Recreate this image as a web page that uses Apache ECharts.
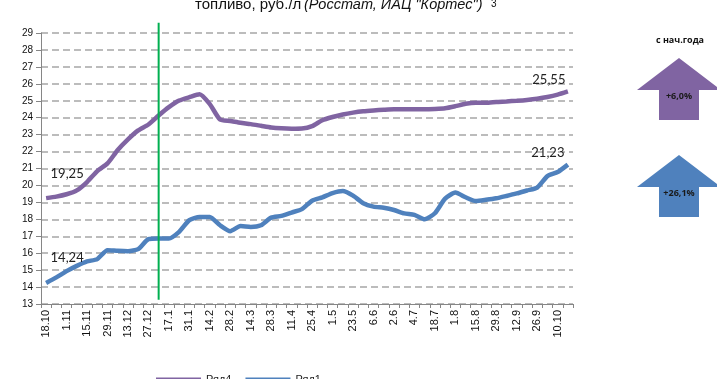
<!DOCTYPE html>
<html>
<head>
<meta charset="utf-8">
<script src="https://cdn.jsdelivr.net/npm/echarts@6/dist/echarts.min.js"></script>
<style>
  html, body { margin: 0; padding: 0; background: #fff; }
  #chart { width: 717px; height: 379px; }
</style>
</head>
<body>
<div id="chart"></div>
<script>
// Weekly observation dates (every second one is labelled on the axis)
const categories = [
  '18.10','25.10','1.11','8.11','15.11','22.11','29.11','6.12','13.12','20.12',
  '27.12','10.1','17.1','24.1','31.1','7.2','14.2','21.2','28.2','7.3',
  '14.3','21.3','28.3','4.4','11.4','18.4','25.4','27.4','1.5','16.5',
  '23.5','30.5','6.6','13.6','2.6','27.6','4.7','11.7','18.7','25.7',
  '1.8','8.8','15.8','22.8','29.8','5.9','12.9','19.9','26.9','3.10',
  '10.10','17.10'
];

// Ряд4, руб./л
const series4 = [
  19.25, 19.34, 19.48, 19.71, 20.20, 20.85, 21.30, 22.09, 22.72, 23.25,
  23.60, 24.13, 24.62, 25.01, 25.21, 25.38, 24.80, 23.89, 23.80, 23.70,
  23.62, 23.52, 23.42, 23.37, 23.35, 23.36, 23.50, 23.85, 24.04, 24.19,
  24.30, 24.38, 24.43, 24.47, 24.50, 24.50, 24.50, 24.50, 24.52, 24.56,
  24.68, 24.82, 24.88, 24.88, 24.93, 24.96, 25.00, 25.05, 25.12, 25.22,
  25.36, 25.55
];

// Ряд1, руб./л
const series1 = [
  14.24, 14.57, 14.94, 15.25, 15.51, 15.65, 16.18, 16.14, 16.12, 16.24,
  16.83, 16.87, 16.87, 17.26, 17.95, 18.14, 18.14, 17.65, 17.30, 17.60,
  17.55, 17.65, 18.10, 18.20, 18.40, 18.60, 19.10, 19.30, 19.55, 19.67,
  19.40, 18.95, 18.75, 18.68, 18.55, 18.35, 18.26, 18.00, 18.36, 19.22,
  19.58, 19.30, 19.08, 19.15, 19.24, 19.38, 19.53, 19.70, 19.87, 20.55,
  20.79, 21.23
];

const seriesNames = ['Ряд4', 'Ряд1'];
const seriesColors = ['#8064a2', '#4f81bd'];
const yTicks = { min: 13, max: 29, step: 1 };
const yearStartIndex = 11;           // first week of the new year
const yearLineSpan = [13.25, 29.6];  // vertical extent of the year marker, in axis units
const growthLabels = ['+6,0%', '+26,1%'];

const fmt = v => String(v.toFixed(2)).replace('.', ',');

// Attach value labels to the first and last points of a series
function withEndLabels(values, firstOffset, lastOffset) {
  return values.map((v, i) => {
    if (i === 0 || i === values.length - 1) {
      return {
        value: v,
        label: {
          show: true,
          position: 'top',
          offset: i === 0 ? firstOffset : lastOffset,
          formatter: p => fmt(p.value),
          fontFamily: 'Lato, "Open Sans", sans-serif',
          fontSize: 13,
          color: '#222'
        }
      };
    }
    return v;
  });
}

const chart = echarts.init(document.getElementById('chart'), null, { renderer: 'canvas' });

// Up-arrow badge shape
function arrow(tipX, tipY, fill, text) {
  const headH = 32, shaftH = 30, halfHead = 42, halfShaft = 20;
  return [
    {
      type: 'polygon',
      shape: {
        points: [
          [tipX, tipY],
          [tipX + halfHead, tipY + headH],
          [tipX + halfShaft, tipY + headH],
          [tipX + halfShaft, tipY + headH + shaftH],
          [tipX - halfShaft, tipY + headH + shaftH],
          [tipX - halfShaft, tipY + headH],
          [tipX - halfHead, tipY + headH]
        ]
      },
      style: { fill: fill }
    },
    {
      type: 'text',
      x: tipX, y: tipY + 38,
      style: {
        text: text,
        font: 'bold 9px "Open Sans", "Liberation Sans", sans-serif',
        fill: '#1a1a1a',
        textAlign: 'center',
        textVerticalAlign: 'middle'
      }
    }
  ];
}

const option = {
  backgroundColor: '#fff',
  animation: false,
  grid: { left: 41, right: 144, top: 33, bottom: 75, containLabel: false },
  legend: {
    data: seriesNames,
    left: 151,
    top: 369,
    icon: 'rect',
    itemWidth: 45,
    itemHeight: 4,
    itemGap: 14,
    textStyle: { fontFamily: '"Liberation Sans", Arial, sans-serif', fontSize: 11, color: '#222' }
  },
  xAxis: {
    type: 'category',
    data: categories,
    boundaryGap: true,
    axisLine: { lineStyle: { color: '#868686', width: 1 } },
    axisTick: { show: true, interval: 0, length: 4, lineStyle: { color: '#868686' } },
    axisLabel: {
      interval: 1,
      rotate: 90,
      margin: 6,
      fontFamily: '"Liberation Sans", Arial, sans-serif',
      fontSize: 11,
      color: '#111'
    },
    splitLine: { show: false }
  },
  yAxis: {
    type: 'value',
    min: yTicks.min,
    max: yTicks.max,
    interval: yTicks.step,
    axisLine: { show: true, lineStyle: { color: '#868686', width: 1 } },
    axisTick: { show: true, length: 5, inside: false, lineStyle: { color: '#868686' } },
    axisLabel: {
      margin: 8,
      fontFamily: '"Liberation Sans", Arial, sans-serif',
      fontSize: 10,
      color: '#111'
    },
    splitLine: { show: true, lineStyle: { color: '#a6a6a6', type: [7, 4], width: 1.5 } }
  },
  series: [
    {
      name: seriesNames[0],
      type: 'line',
      data: withEndLabels(series4, [21, -13], [-19, 0]),
      smooth: 0.2,
      symbol: 'circle',
      symbolSize: 0,
      showSymbol: true,
      clip: false,
      lineStyle: { color: seriesColors[0], width: 4.5 },
      itemStyle: { color: seriesColors[0] },
      z: 3
    },
    {
      name: seriesNames[1],
      type: 'line',
      data: withEndLabels(series1, [21, -14], [-20, 0]),
      smooth: 0.2,
      symbol: 'circle',
      symbolSize: 0,
      showSymbol: true,
      clip: false,
      lineStyle: { color: seriesColors[1], width: 4.5 },
      itemStyle: { color: seriesColors[1] },
      z: 3
    },
    {
      // Green marker at the start of the year
      name: 'yearStart',
      type: 'custom',
      clip: false,
      silent: true,
      z: 4,
      data: [[yearStartIndex]],
      renderItem: (params, api) => {
        const x = api.value(0);
        const p0 = api.coord([x, yearLineSpan[0]]);
        const p1 = api.coord([x, yearLineSpan[1]]);
        return {
          type: 'line',
          shape: { x1: p0[0], y1: p0[1], x2: p1[0], y2: p1[1] },
          style: { stroke: '#00b050', lineWidth: 2 }
        };
      }
    }
  ],
  graphic: [
    {
      type: 'text', x: 195, y: 12,
      style: {
        text: 'топливо, руб./л',
        font: '15px "Liberation Sans", Arial, sans-serif',
        fill: '#111', textVerticalAlign: 'bottom'
      }
    },
    {
      type: 'text', x: 304, y: 12,
      style: {
        text: '(Росстат, ИАЦ "Кортес")',
        font: 'italic 14.5px "Liberation Sans", Arial, sans-serif',
        fill: '#111', textVerticalAlign: 'bottom'
      }
    },
    {
      type: 'text', x: 491, y: 9,
      style: {
        text: '3',
        font: '10px "Liberation Sans", Arial, sans-serif',
        fill: '#111', textVerticalAlign: 'bottom'
      }
    },
    {
      type: 'text', x: 680, y: 40,
      style: {
        text: 'с нач.года',
        font: 'bold 9px "Open Sans", "Liberation Sans", sans-serif',
        fill: '#111', textAlign: 'center', textVerticalAlign: 'middle'
      }
    },
    ...arrow(679, 58, seriesColors[0], growthLabels[0]),
    ...arrow(679, 155, seriesColors[1], growthLabels[1])
  ]
};

chart.setOption(option);
</script>
</body>
</html>
